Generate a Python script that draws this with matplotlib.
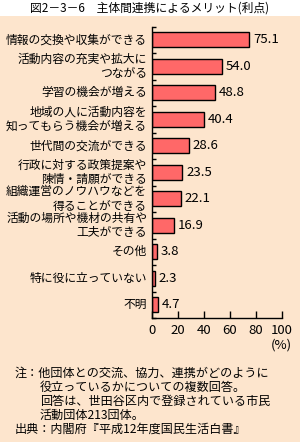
import matplotlib
matplotlib.use("Agg")
import matplotlib.pyplot as plt
from matplotlib.patches import Rectangle
import numpy as np

plt.rcParams['font.family'] = ['Noto Sans CJK JP', 'DejaVu Sans']

# data (percent, multiple answers)
labels = ["情報の交換や収集ができる",
          "活動内容の充実や拡大に\nつながる",
          "学習の機会が増える",
          "地域の人に活動内容を\n知ってもらう機会が増える",
          "世代間の交流ができる",
          "行政に対する政策提案や\n陳情・請願ができる",
          "組織運営のノウハウなどを\n得ることができる",
          "活動の場所や機材の共有や\n工夫ができる",
          "その他",
          "特に役に立っていない",
          "不明"]
values = [75.1, 54.0, 48.8, 40.4, 28.6, 23.5, 22.1, 16.9, 3.8, 2.3, 4.7]
xticks = [0, 20, 40, 60, 80, 100]

bg = "#FDE5CD"
bar_col = "#FF6868"

fig = plt.figure(figsize=(3.0, 4.42), dpi=100)
fig.patch.set_facecolor("white")
fig.patches.append(Rectangle((0, 0), 1, 1 - 16/442, transform=fig.transFigure,
                             facecolor=bg, edgecolor="none", zorder=-10))

fig.text(0.5, 1 - 8/442, "図2－3－6　主体間連携によるメリット(利点)",
         ha="center", va="center", fontsize=8.5)

ax = fig.add_axes([152/300, 1 - 318/442, 129.6/300, (318 - 26.7)/442])
ax.set_facecolor("none")

n = len(values)
y = np.arange(n)
ax.barh(y, values, height=0.57, color=bar_col, edgecolor="black", linewidth=1)
ax.set_ylim(n - 0.5, -0.5)
ax.set_xlim(0, 100)

for yi, v in zip(y, values):
    ax.text(v + 3, yi, f"{v:.1f}", va="center", ha="left", fontsize=9.5)
    ax.text(-3.8, yi, labels[yi], va="center", ha="right", fontsize=8.5,
            linespacing=1.15, clip_on=False)

ax.set_yticks(np.arange(n + 1) - 0.5)
ax.set_yticklabels([])
ax.tick_params(axis="y", direction="in", length=3, width=1)
ax.set_xticks(xticks)
ax.set_xticklabels([str(t) for t in xticks], fontsize=9.5)
ax.tick_params(axis="x", direction="in", length=5, width=1, pad=4)

for s in ["top", "right"]:
    ax.spines[s].set_visible(False)
for s in ["left", "bottom"]:
    ax.spines[s].set_linewidth(1)

fig.text(292/300, 1 - 345/442, "(%)", ha="right", va="center", fontsize=9.5)

notes = [(15, 373, "注：他団体との交流、協力、連携がどのように"),
         (40, 387, "役立っているかについての複数回答。"),
         (40, 401, "回答は、世田谷区内で登録されている市民"),
         (40, 415, "活動団体213団体。"),
         (15, 429, "出典：内閣府『平成12年度国民生活白書』")]
for x0, y0, t in notes:
    fig.text(x0/300, 1 - y0/442, t, ha="left", va="center", fontsize=8.7)

fig.savefig("out.png", dpi=100, facecolor=fig.get_facecolor())
